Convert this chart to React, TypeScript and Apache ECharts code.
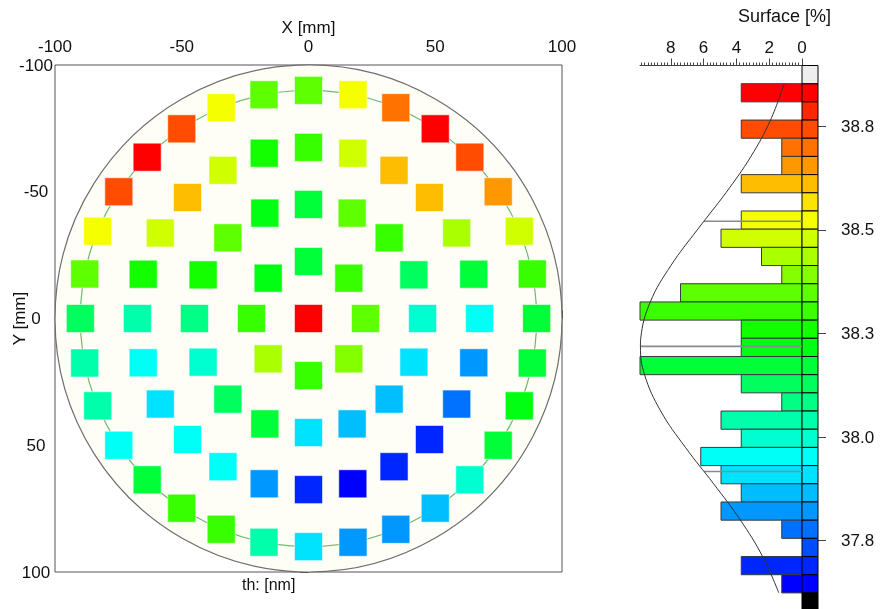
import React, { useEffect, useRef } from "react";
import * as echarts from "echarts";

// ---------- Wafer map data ----------
// measurement rings (radius in mm); sites on a ring are evenly spaced, clockwise from 12 o'clock
const ringRadiusMm = [0, 22.5, 45, 67.5, 90];
// thickness per site [nm], clockwise from the top of each ring
const thicknessCenter = [38.831];
const thicknessRing1 = [38.173, 38.304, 38.348, 38.392, 38.304, 38.436, 38.304, 38.217];
const thicknessRing2 = [
  38.173, 38.348, 38.304, 38.129, 37.997, 37.909, 37.866, 37.866,
  37.909, 38.173, 38.129, 37.997, 38.085, 38.260, 38.348, 38.217,
];
const thicknessRing3 = [
  38.304, 38.480, 38.612, 38.612, 38.436, 38.173, 37.953, 37.822,
  37.778, 37.690, 37.690, 37.646, 37.690, 37.822, 37.953, 37.953,
  37.909, 37.953, 38.041, 38.260, 38.480, 38.612, 38.480, 38.260,
];
const thicknessRing4 = [
  38.348, 38.524, 38.699, 38.831, 38.743, 38.655, 38.480, 38.304,
  38.173, 38.173, 38.217, 38.173, 37.997, 37.866, 37.822, 37.822,
  37.909, 38.041, 38.304, 38.304, 38.173, 37.953, 38.041, 38.041,
  38.129, 38.348, 38.524, 38.743, 38.831, 38.743, 38.524, 38.348,
];
const waferRadiusMm = 100;
const edgeRingRadiusMm = 90;

// ---------- Histogram data ----------
const histTopEdge = 38.853; // nm
const histBinWidth = 0.0439; // nm
const histSiteCounts = [3, 0, 3, 1, 1, 3, 0, 3, 4, 2, 1, 6, 8, 3, 3, 8, 3, 1, 4, 3, 5, 4, 3, 4, 1, 0, 3, 1];
const siteTotal = 81;

// Gaussian fit curve: surface [%] vs thickness [nm]
const fitCurveThickness = [38.853, 38.765, 38.677, 38.59, 38.502, 38.414, 38.326, 38.239, 38.219, 38.151, 38.063, 37.975, 37.887, 37.8, 37.712, 37.624];
const fitCurveSurface = [1.088, 1.922, 3.119, 4.634, 6.35, 7.994, 9.251, 9.828, 9.85, 9.604, 8.618, 7.107, 5.384, 3.764, 2.406, 1.414];
// mean and mean ± sigma markers
const fitMarkerThickness = [38.521, 38.219, 37.917];
const fitMarkerSurface = [5.97, 9.85, 5.97];

const surfaceTicks = [0, 2, 4, 6, 8];
const thicknessTicks = [37.75, 38.0, 38.25, 38.5, 38.75];

const colorStops = ["#0000ff", "#00ffff", "#00ff00", "#ffff00", "#ff0000"];
const FONT = "Liberation Sans, Arial, Helvetica, sans-serif";

export default function App() {
  const ref = useRef<HTMLDivElement>(null);

  useEffect(() => {
    if (!ref.current) return;
    const chart = echarts.init(ref.current, null, { renderer: "svg" });

    const rings = [thicknessCenter, thicknessRing1, thicknessRing2, thicknessRing3, thicknessRing4];
    const siteData: number[][] = [];
    rings.forEach((vals, ri) => {
      vals.forEach((v, k) => {
        const ang = (2 * Math.PI * k) / vals.length;
        siteData.push([ringRadiusMm[ri] * Math.sin(ang), -ringRadiusMm[ri] * Math.cos(ang), v]);
      });
    });

    const w = histBinWidth;
    const binCount = histSiteCounts.length;
    const histData = histSiteCounts.map((c, i) => {
      const hi = histTopEdge - i * w;
      const lo = hi - w;
      return [hi, lo, (hi + lo) / 2, (c / siteTotal) * 100];
    });
    const surfaceMax = (Math.max(...histSiteCounts) / siteTotal) * 100;
    const colorMin = histData[binCount - 1][2];
    const colorMax = histData[0][2];
    const yMax = histTopEdge + w;
    const yMin = histTopEdge - (binCount + 1) * w;
    const overflowCells = [
      [yMax, histTopEdge, 0],
      [histTopEdge - binCount * w, yMin, 1],
    ];
    const minorTickValues: number[] = [];
    for (let v = 37.6; v <= 38.876; v += 0.025) minorTickValues.push(Math.round(v * 1000) / 1000);

    const fitCurve = fitCurveSurface.map((s, i) => [s, fitCurveThickness[i]]);
    const fitMarkers = fitMarkerSurface.map((s, i) => [s, fitMarkerThickness[i]]);

    const axisColor = "#444";
    const textColor = "#111";

    const option: any = {
      animation: false,
      textStyle: { fontFamily: FONT },
      grid: [
        { left: 55, top: 65, width: 507, height: 507, show: true, borderColor: "#555", borderWidth: 1, backgroundColor: "#fff", containLabel: false, outerBoundsMode: "none" },
        { left: 640, top: 65.5, width: 162, height: 545.6, containLabel: false, outerBoundsMode: "none" },
        { left: 802, top: 65.5, width: 16, height: 545.6, containLabel: false, outerBoundsMode: "none" },
      ],
      xAxis: [
        {
          gridIndex: 0, type: "value", position: "top", min: -100, max: 100, interval: 50,
          axisLine: { lineStyle: { color: axisColor } },
          axisTick: { length: 8, lineStyle: { color: axisColor } },
          minorTick: { show: true, splitNumber: 10, length: 4, lineStyle: { color: axisColor } },
          axisLabel: { fontSize: 17, color: textColor, margin: 10, fontFamily: FONT },
          splitLine: { show: false }, minorSplitLine: { show: false },
          name: "X [mm]", nameLocation: "middle", nameGap: 29, nameMoveOverlap: false,
          nameTextStyle: { fontSize: 17, color: textColor, fontFamily: FONT },
        },
        {
          gridIndex: 1, type: "value", position: "top", inverse: true, min: 0, max: surfaceMax, interval: 2,
          axisLine: { lineStyle: { color: axisColor } },
          axisTick: { length: 7, customValues: surfaceTicks, lineStyle: { color: axisColor } },
          minorTick: { show: true, splitNumber: 10, length: 3, lineStyle: { color: axisColor } },
          axisLabel: { fontSize: 17, color: textColor, margin: 10, customValues: surfaceTicks, fontFamily: FONT },
          splitLine: { show: false },
        },
        { gridIndex: 2, type: "value", min: 0, max: 1, show: false },
      ],
      yAxis: [
        {
          gridIndex: 0, type: "value", position: "left", inverse: true, min: -100, max: 100, interval: 50,
          axisLine: { lineStyle: { color: axisColor } },
          axisTick: { length: 8, lineStyle: { color: axisColor } },
          minorTick: { show: true, splitNumber: 10, length: 5, lineStyle: { color: axisColor } },
          axisLabel: { fontSize: 17, color: textColor, margin: 19, align: "center", fontFamily: FONT },
          splitLine: { show: false },
          name: "Y [mm]", nameLocation: "middle", nameGap: 27, nameRotate: 90, nameMoveOverlap: false,
          nameTextStyle: { fontSize: 17, color: textColor, fontFamily: FONT },
        },
        { gridIndex: 1, type: "value", min: yMin, max: yMax, show: false },
        {
          gridIndex: 2, type: "value", position: "right", min: yMin, max: yMax,
          axisLine: { show: true, lineStyle: { color: "#000" } },
          axisTick: { show: true, length: 4, customValues: minorTickValues, lineStyle: { color: axisColor } },
          axisLabel: { show: false },
          splitLine: { show: false },
        },
        {
          gridIndex: 2, type: "value", position: "right", min: yMin, max: yMax,
          axisLine: { show: false },
          axisTick: { show: true, length: 8, customValues: thicknessTicks, lineStyle: { color: axisColor } },
          axisLabel: {
            show: true, customValues: thicknessTicks, margin: 23, fontSize: 17, color: textColor, fontFamily: FONT,
            formatter: (v: number) => v.toFixed(1),
          },
          splitLine: { show: false },
        },
      ],
      visualMap: [
        {
          type: "continuous", show: false, min: colorMin, max: colorMax, dimension: 2,
          seriesIndex: [1, 2, 5], inRange: { color: colorStops },
        },
      ],
      graphic: [
        { type: "text", left: 738, top: 7, style: { text: "Surface [%]", fontSize: 18, fill: textColor, fontFamily: FONT } },
        { type: "text", left: 242, top: 576, style: { text: "th: [nm]", fontSize: 16, fill: textColor, fontFamily: FONT } },
      ],
      series: [
        {
          type: "custom", xAxisIndex: 0, yAxisIndex: 0, silent: true, z: 1,
          data: [[0, 0]],
          renderItem: (_p: any, api: any) => {
            const c = api.coord([0, 0]);
            const r1 = api.coord([waferRadiusMm, 0])[0] - c[0];
            const r2 = api.coord([edgeRingRadiusMm, 0])[0] - c[0];
            return {
              type: "group",
              children: [
                { type: "circle", shape: { cx: c[0], cy: c[1], r: r1 }, style: { fill: "#fefef6", stroke: "#6e6e6e", lineWidth: 1.2 } },
                { type: "circle", shape: { cx: c[0], cy: c[1], r: r2 }, style: { fill: "none", stroke: "#6fba6f", lineWidth: 1.2 } },
              ],
            };
          },
        },
        {
          type: "scatter", xAxisIndex: 0, yAxisIndex: 0, z: 3, symbol: "rect", symbolSize: 28,
          data: siteData,
          itemStyle: { borderColor: "rgba(255,255,255,0.55)", borderWidth: 1, opacity: 1 },
        },
        {
          type: "custom", xAxisIndex: 1, yAxisIndex: 1, z: 2, silent: true,
          encode: { x: 3, y: 0 },
          data: histData.filter((d) => d[3] > 0),
          renderItem: (_p: any, api: any) => {
            const p1 = api.coord([api.value(3), api.value(0)]);
            const p2 = api.coord([0, api.value(1)]);
            return {
              type: "rect",
              shape: { x: p1[0], y: p1[1], width: p2[0] - p1[0], height: p2[1] - p1[1] },
              style: { fill: api.visual("color"), stroke: "#3a3a3a", lineWidth: 1 },
            };
          },
        },
        {
          type: "custom", xAxisIndex: 1, yAxisIndex: 1, z: 4, silent: true,
          encode: { x: 0, y: 1 },
          data: fitMarkers,
          renderItem: (_p: any, api: any) => {
            const a = api.coord([0, api.value(1)]);
            const b = api.coord([api.value(0), api.value(1)]);
            return {
              type: "line",
              shape: { x1: a[0], y1: a[1], x2: b[0], y2: b[1] },
              style: { stroke: "#8a8a8a", lineWidth: 1.6 },
            };
          },
        },
        {
          type: "line", xAxisIndex: 1, yAxisIndex: 1, z: 5, silent: true,
          data: fitCurve, showSymbol: false, smooth: 0.4,
          lineStyle: { color: "#333", width: 1 },
        },
        {
          type: "custom", xAxisIndex: 2, yAxisIndex: 2, z: 3, silent: true,
          encode: { x: 2, y: 0 },
          data: histData.map((d) => [d[0], d[1], d[2]]),
          renderItem: (_p: any, api: any) => {
            const p1 = api.coord([0, api.value(0)]);
            const p2 = api.coord([1, api.value(1)]);
            return {
              type: "rect",
              shape: { x: p1[0], y: p1[1], width: p2[0] - p1[0], height: p2[1] - p1[1] },
              style: { fill: api.visual("color"), stroke: "#000", lineWidth: 1 },
            };
          },
        },
        {
          type: "custom", xAxisIndex: 2, yAxisIndex: 2, z: 3, silent: true,
          encode: { x: 2, y: 0 },
          data: overflowCells,
          renderItem: (_p: any, api: any) => {
            const p1 = api.coord([0, api.value(0)]);
            const p2 = api.coord([1, api.value(1)]);
            return {
              type: "rect",
              shape: { x: p1[0], y: p1[1], width: p2[0] - p1[0], height: p2[1] - p1[1] },
              style: { fill: api.value(2) === 0 ? "#eeeeee" : "#000000", stroke: "#000", lineWidth: 1 },
            };
          },
        },
      ],
    };

    chart.setOption(option);
    return () => chart.dispose();
  }, []);

  return <div ref={ref} style={{ position: "fixed", left: 0, top: 0, width: 880, height: 609 }} />;
}
